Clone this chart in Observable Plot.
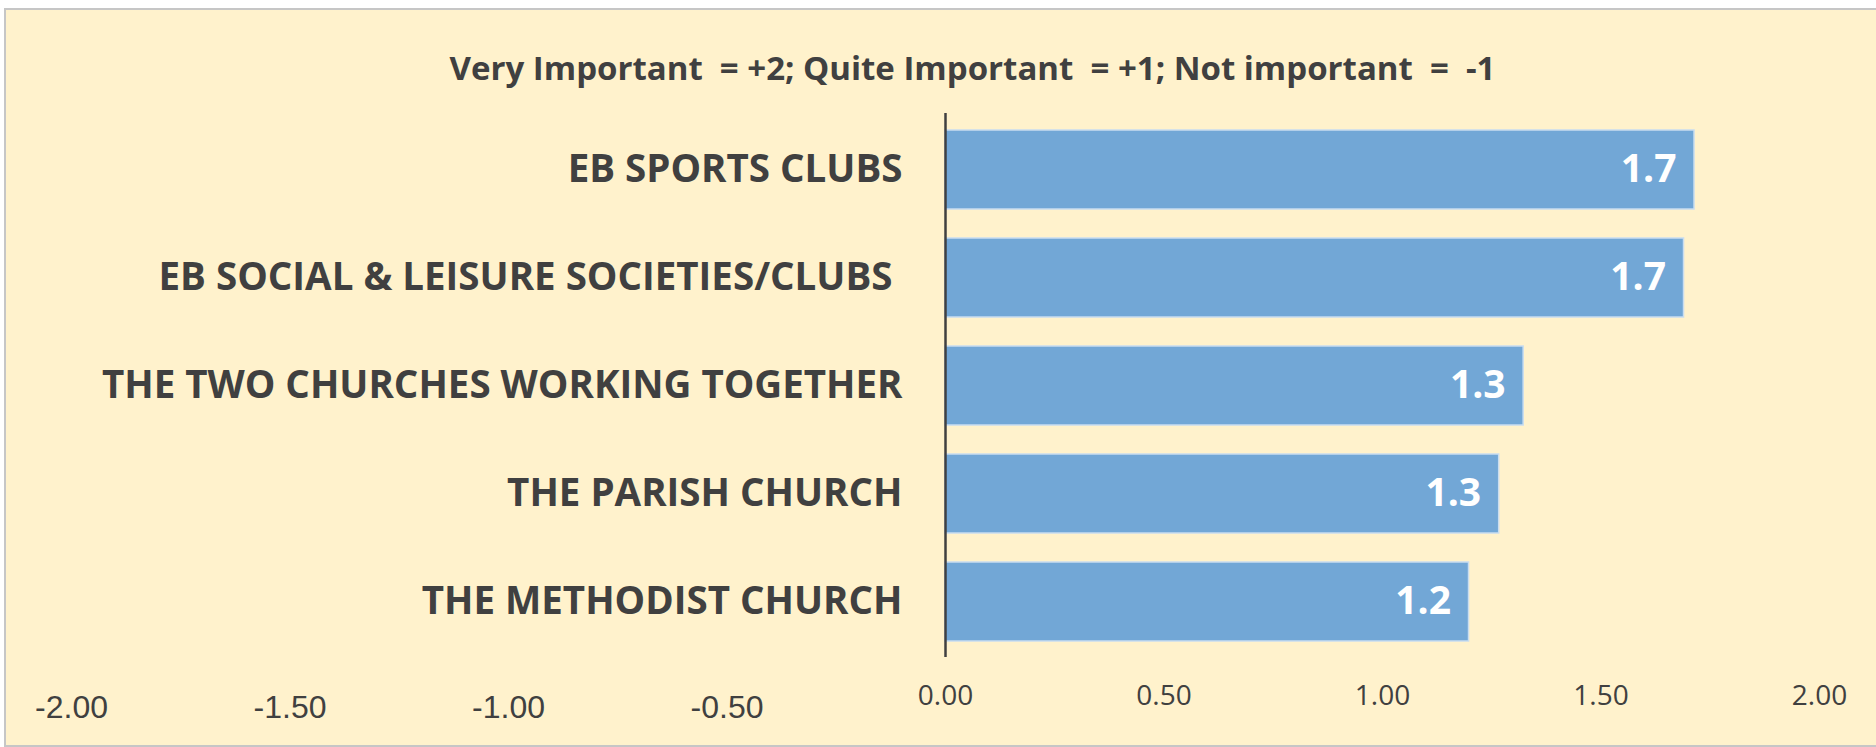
<!DOCTYPE html>
<html>
<head>
<meta charset="utf-8">
<script src="https://cdn.jsdelivr.net/npm/d3@7"></script>
<script src="https://cdn.jsdelivr.net/npm/@observablehq/plot@0.6"></script>
<style>
  html, body { margin: 0; padding: 0; background: #ffffff; }
  #wrap { position: relative; width: 1876px; height: 747px; overflow: hidden; }
  #panel { position: absolute; left: 4px; top: 8px; width: 1890px; height: 735px;
           background: #FFF2CC; border: 2px solid #c6c6c6; border-right: none; }
  #chart { position: absolute; left: 0; top: 0; }
  #chart text { white-space: pre; }
</style>
</head>
<body>
<div id="wrap"><div id="panel"></div><div id="chart"></div></div>
<script>
const title = "Very Important  = +2; Quite Important  = +1; Not important  =  -1";
const categories = [
  "EB SPORTS CLUBS",
  "EB SOCIAL & LEISURE SOCIETIES/CLUBS ",
  "THE TWO CHURCHES WORKING TOGETHER",
  "THE PARISH CHURCH",
  "THE METHODIST CHURCH"
];
const values = [1.714, 1.690, 1.323, 1.267, 1.198];
const ticksNegative = [-2, -1.5, -1, -0.5];
const ticksPositive = [0, 0.5, 1, 1.5, 2];

const data = categories.map((c, i) => ({category: c, value: values[i]}));
const ink = "#404040";

const chart = Plot.plot({
  width: 1876,
  height: 747,
  marginLeft: 71,
  marginRight: 57,
  marginTop: 113,
  marginBottom: 90,
  style: {background: "transparent", overflow: "visible", fontFamily: "'Open Sans', sans-serif"},
  x: {domain: [-2, 2], axis: null},
  y: {domain: categories, axis: null, paddingInner: 0.27, paddingOuter: 0.135},
  marks: [
    Plot.barX(data, {x: "value", y: "category", fill: "#72a7d6", stroke: "#c9ddf0", strokeWidth: 1.5}),
    Plot.ruleX([0], {stroke: ink, strokeWidth: 2.5}),
    Plot.text(data, {x: 0, y: "category", text: "category", textAnchor: "end", dx: -43,
      fontSize: 38.5, fontWeight: "bold", fill: ink}),
    Plot.text(data, {x: "value", y: "category", text: d => d.value.toFixed(1), textAnchor: "end", dx: -18,
      fontSize: 39, fontWeight: "bold", fill: "#ffffff"}),
    Plot.text(ticksPositive, {x: d => d, text: d => d.toFixed(2), frameAnchor: "bottom", dy: 47,
      fontSize: 28, fill: ink}),
    Plot.text(ticksNegative, {x: d => d, text: d => d.toFixed(2), frameAnchor: "bottom", dy: 60.5,
      fontSize: 32, fontFamily: "'Liberation Sans', Arial, sans-serif", fill: ink}),
    Plot.text([title], {text: d => d, frameAnchor: "top", dx: 27, dy: -57,
      fontSize: 33, fontWeight: "bold", fill: ink})
  ]
});
document.getElementById("chart").appendChild(chart);
</script>
</body>
</html>
